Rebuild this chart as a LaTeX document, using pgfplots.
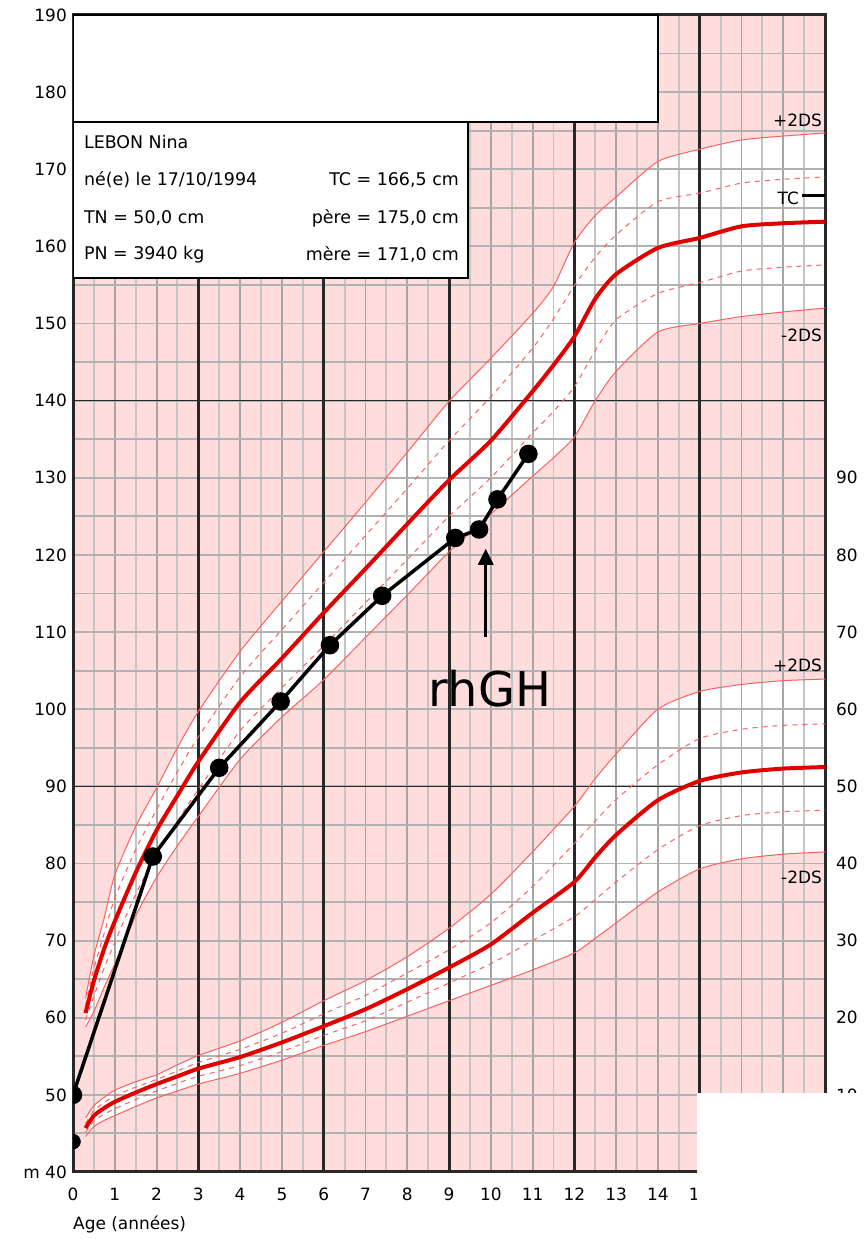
\documentclass[border=0pt]{standalone}
\usepackage{fontspec}
\setmainfont{DejaVu Sans}
\usepackage{pgfplots}
\usepackage{pgfplotstable}
\pgfplotsset{compat=1.18}
\usepgfplotslibrary{fillbetween}
\usetikzlibrary{arrows.meta}
\definecolor{pinkbg}{RGB}{255,221,221}
\definecolor{gridmaj}{RGB}{165,165,165}
\definecolor{gridmin}{RGB}{196,196,196}
\definecolor{gridy}{RGB}{178,178,178}
\definecolor{darkline}{RGB}{40,40,40}
\definecolor{meanred}{RGB}{225,0,0}
\definecolor{sdred}{RGB}{255,95,95}
\newcommand\fsz{\fontsize{17}{17}\selectfont}
\newcommand\finfo{\fontsize{17.5}{18}\selectfont}

% height (cm), girls
\pgfplotstableread{
age m2 m1 m p1 p2
0.3 58.8 59.7 60.6 61.6 62.5
0.5 60.8 62.8 64.8 66.4 68.0
0.75 64.0 66.5 69.0 71.0 73.0
1 67.0 69.8 72.5 75.5 78.5
1.5 73.2 76.0 78.8 81.8 84.8
2 78.2 81.2 84.3 87.0 89.8
2.5 82.3 85.5 88.8 91.9 95.0
3 86.1 89.6 93.2 96.4 99.7
4 93.5 97.2 100.9 104.2 107.5
5 99.0 102.8 106.6 110.3 114.0
6 103.8 108.2 112.5 116.4 120.4
7 109.3 113.8 118.2 122.5 126.8
8 114.8 119.4 124.0 128.6 133.3
9 120.4 125.0 129.7 134.8 139.9
10 125.3 130.0 134.8 140.5 145.5
11 130.2 135.8 141.2 146.8 151.3
11.5 132.6 138.6 144.6 150.6 154.8
12 135.3 141.8 148.3 154.9 160.5
12.5 140.0 146.5 153.2 158.6 164.0
13 143.8 150.5 156.4 161.5 166.4
14 148.9 153.9 159.8 165.8 171.0
15 150.0 155.3 161.1 166.9 172.6
16 150.9 156.8 162.6 168.2 173.8
17 151.5 157.3 163.0 168.7 174.3
18 152.0 157.6 163.2 169.0 174.7
}\htab

% weight (kg), girls
\pgfplotstableread{
age m2 m1 m p1 p2
0.3 4.6 5.1 5.7 6.3 7.0
0.5 5.9 6.6 7.3 8.0 8.6
0.75 6.7 7.5 8.3 9.0 9.7
1 7.3 8.2 9.1 9.9 10.6
1.5 8.5 9.4 10.3 11.0 11.7
2 9.6 10.5 11.4 12.0 12.6
2.5 10.5 11.5 12.4 13.1 13.9
3 11.4 12.4 13.4 14.2 15.1
4 12.8 13.8 14.9 15.9 17.0
5 14.5 15.6 16.8 18.0 19.4
6 16.4 17.7 18.9 20.5 22.2
7 18.2 19.6 21.1 22.9 24.8
8 20.2 22.0 23.7 25.8 27.9
9 22.2 24.5 26.5 28.8 31.6
10 24.2 27.0 29.5 32.3 36.0
11 26.2 30.0 33.6 37.0 41.5
12 28.4 33.1 37.6 42.6 47.4
12.5 30.3 35.3 40.8 45.5 51.0
13 32.3 37.6 43.7 48.3 54.2
14 36.3 41.8 48.2 52.8 60.0
15 39.3 44.9 50.7 56.2 62.3
16 40.6 46.2 51.8 57.4 63.2
17 41.2 46.7 52.3 57.9 63.7
18 41.5 46.9 52.5 58.1 63.9
}\wtab

\begin{document}
\begin{tikzpicture}
\begin{axis}[
  set layers,
  scale only axis, width=752bp, height=1157bp,
  xmin=0, xmax=18, ymin=40, ymax=190,
  axis background/.style={fill=pinkbg},
  xtick={0,1,...,18},
  xticklabels={0,1,2,3,4,5,6,7,8,9,10,11,12,13,14,15,{},{},{}},
  minor x tick num=1,
  ytick={40,50,...,190},
  yticklabels={m 40,50,60,70,80,90,100,110,120,130,140,150,160,170,180,190},
  minor y tick num=1,
  grid=both,
  major x grid style={gridmaj, line width=1.9bp},
  minor x grid style={gridmin, line width=1.9bp},
  major y grid style={gridy, line width=1.9bp},
  minor y grid style={gridy, line width=1.9bp},
  extra x ticks={3,6,9,12,15,18},
  extra x tick labels={},
  extra x tick style={grid=major, major x grid style={darkline, line width=3bp}},
  extra y ticks={90,140,190},
  extra y tick labels={},
  extra y tick style={grid=major, major y grid style={darkline, line width=1.6bp}},
  major tick length=0pt, minor tick length=0pt,
  tick style={draw=none},
  axis line style={darkline, line width=3bp},
  /pgf/number format/assume math mode=true,
  tick label style={font=\fsz, text=black},
  xticklabel style={inner sep=0pt, yshift=-16bp},
  yticklabel style={inner sep=0pt, xshift=-6bp},
  xlabel={Age (années)},
  xlabel style={font=\fsz, at={(axis description cs:0,0)}, anchor=north west, inner sep=0pt, yshift=-44bp},
  clip marker paths=true,
]
\coordinate (SW) at (rel axis cs:0,0);
\coordinate (NE) at (rel axis cs:1,1);
\coordinate (WR) at (axis cs:14.93,50.25);

% height curves
\addplot[sdred, line width=1bp, smooth, tension=0.4, name path=hp2] table[x=age,y=p2]{\htab};
\addplot[sdred, line width=1bp, smooth, tension=0.4, name path=hm2] table[x=age,y=m2]{\htab};
\addplot[fill=white, draw=none] fill between[of=hp2 and hm2, on layer=axis background];
\addplot[sdred, line width=1bp, smooth, tension=0.4, dash pattern=on 5bp off 5bp] table[x=age,y=p1]{\htab};
\addplot[sdred, line width=1bp, smooth, tension=0.4, dash pattern=on 5bp off 5bp] table[x=age,y=m1]{\htab};
\addplot[meanred, line width=4bp, smooth, tension=0.4] table[x=age,y=m]{\htab};

% weight curves (plotted at kg + 40)
\addplot[sdred, line width=1bp, smooth, tension=0.4, name path=wp2] table[x=age,y expr=\thisrow{p2}+40]{\wtab};
\addplot[sdred, line width=1bp, smooth, tension=0.4, name path=wm2] table[x=age,y expr=\thisrow{m2}+40]{\wtab};
\addplot[fill=white, draw=none] fill between[of=wp2 and wm2, on layer=axis background];
\addplot[sdred, line width=1bp, smooth, tension=0.4, dash pattern=on 5bp off 5bp] table[x=age,y expr=\thisrow{p1}+40]{\wtab};
\addplot[sdred, line width=1bp, smooth, tension=0.4, dash pattern=on 5bp off 5bp] table[x=age,y expr=\thisrow{m1}+40]{\wtab};
\addplot[meanred, line width=4bp, smooth, tension=0.4] table[x=age,y expr=\thisrow{m}+40]{\wtab};

% patient measurements
\addplot[black, line width=3.5bp, mark=*, mark size=7.5bp] coordinates {
 (0,50) (1.91,80.9) (3.5,92.4) (4.97,101.0) (6.15,108.3) (7.4,114.7)
 (9.15,122.2) (9.72,123.3) (10.16,127.2) (10.9,133.1)};
\addplot[black, only marks, mark=*, mark size=7.5bp] coordinates {(0,43.94)};

% target height mark
\addplot[black, line width=3bp] coordinates {(17.45,166.6) (18,166.6)};
\node[font=\fsz, anchor=east, inner sep=0pt] at (axis cs:17.38,166.2) {TC};

% DS labels
\node[font=\fsz, anchor=east, inner sep=0pt] at (axis cs:17.93,176.3) {+2DS};
\node[font=\fsz, anchor=east, inner sep=0pt] at (axis cs:17.93,148.5) {-2DS};
\node[font=\fsz, anchor=east, inner sep=0pt] at (axis cs:17.93,105.7) {+2DS};
\node[font=\fsz, anchor=east, inner sep=0pt] at (axis cs:17.93,78.2) {-2DS};

% rhGH arrow
\addplot[black, line width=3bp, -{Triangle[width=15bp,length=16bp]}] coordinates {(9.88,109.4) (9.88,120.8)};
\node[font=\fontsize{48}{48}\selectfont] at (axis cs:9.98,102.7) {rhGH};

% info boxes
\draw[black, line width=1.5bp, fill=white] (axis cs:0,190) rectangle (axis cs:14.0,176.1);
\draw[black, line width=1.5bp, fill=white] (axis cs:0,176.1) rectangle (axis cs:9.45,155.9);
\node[font=\finfo, anchor=west, inner sep=0pt] at (axis cs:0.26,173.5) {LEBON Nina};
\node[font=\finfo, anchor=west, inner sep=0pt] at (axis cs:0.26,168.6) {né(e) le 17/10/1994};
\node[font=\finfo, anchor=west, inner sep=0pt] at (axis cs:0.26,163.7) {TN = 50,0 cm};
\node[font=\finfo, anchor=west, inner sep=0pt] at (axis cs:0.26,158.9) {PN = 3940 kg};
\node[font=\finfo, anchor=east, inner sep=0pt] at (axis cs:9.24,168.6) {TC = 166,5 cm};
\node[font=\finfo, anchor=east, inner sep=0pt] at (axis cs:9.24,163.7) {père = 175,0 cm};
\node[font=\finfo, anchor=east, inner sep=0pt] at (axis cs:9.24,158.9) {mère = 171,0 cm};
\end{axis}

% right-hand weight scale (kg)
\begin{axis}[
  scale only axis, width=752bp, height=1157bp,
  xmin=0, xmax=18, ymin=0, ymax=150,
  hide x axis,
  axis y line*=right,
  y axis line style={draw=none},
  ytick={10,20,...,90},
  major tick length=0pt, tick style={draw=none},
  /pgf/number format/assume math mode=true,
  yticklabel style={font=\fsz, inner sep=0pt, anchor=west, xshift=11bp},
]
\addplot[draw=none] coordinates {(0,0) (18,150)};
\end{axis}

\fill[white] (WR) rectangle ([shift={(300bp,-300bp)}]WR);
\pgfresetboundingbox
\path[use as bounding box] ([shift={(-73bp,-67bp)}]SW) rectangle ([shift={(39bp,15bp)}]NE);
\end{tikzpicture}
\end{document}
